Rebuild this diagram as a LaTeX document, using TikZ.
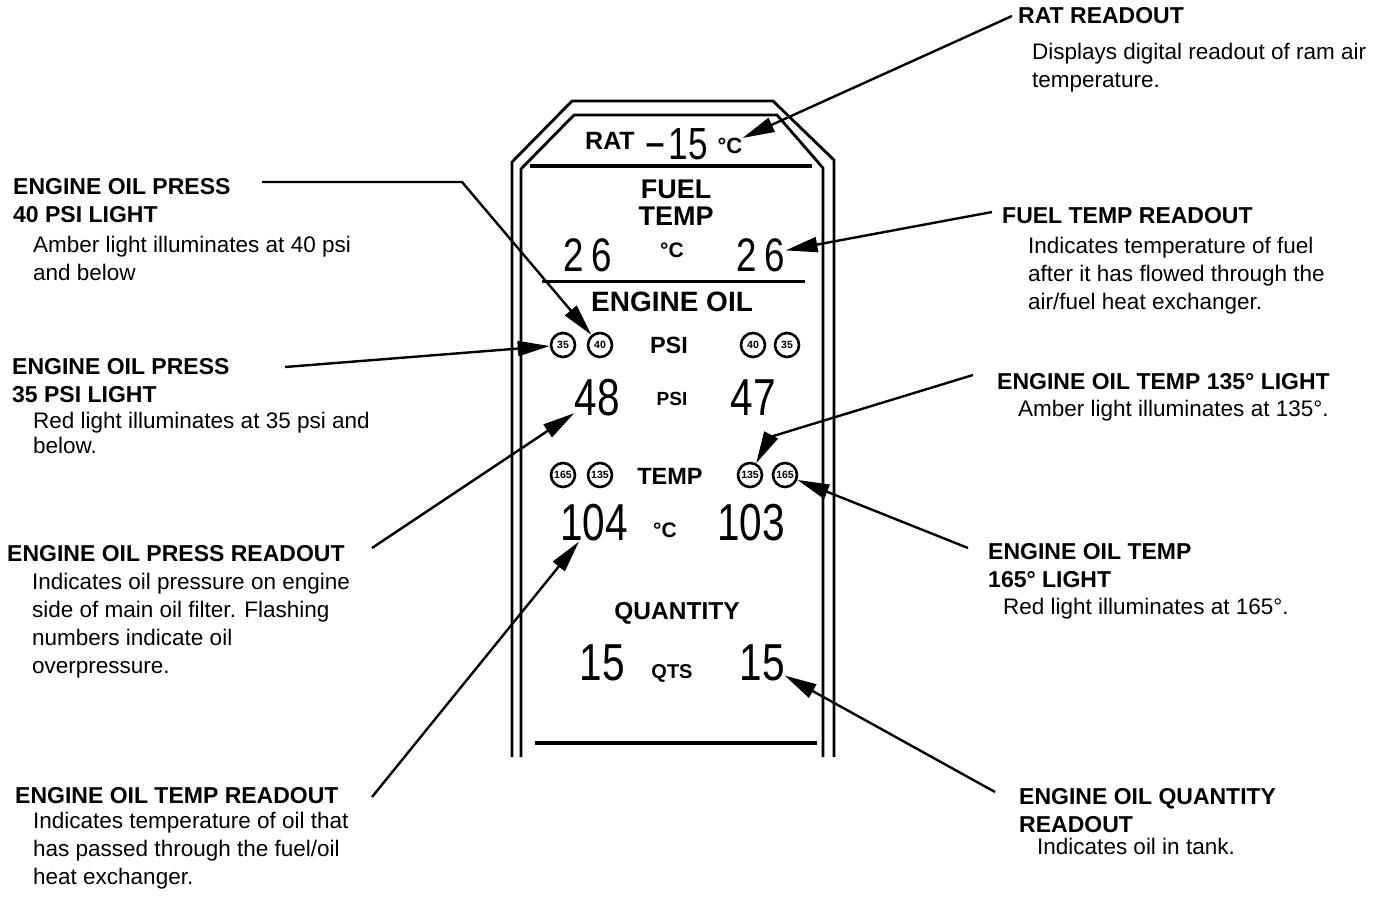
\documentclass[tikz,border=0pt]{standalone}
\usepackage{fontspec}
\setmainfont{Liberation Sans}
\newfontfamily\segfont[FakeStretch=0.78]{Liberation Sans}
\usepackage{tikz}
\usetikzlibrary{positioning,arrows.meta}

\begin{document}
\begin{tikzpicture}[x=1pt,y=-1pt,
  head/.style={anchor=north west,inner sep=0pt,align=left,font=\bfseries\fontsize{23}{28}\selectfont},
  desc/.style={anchor=north west,inner sep=0pt,align=left,font=\fontsize{22.5}{28}\selectfont},
  lbl/.style={inner sep=0pt,font=\bfseries\fontsize{#1}{#1}\selectfont},
  lbl/.default=24,
  seg/.style={inner sep=0pt,font=\segfont\fontsize{#1}{#1}\selectfont},
  seg/.default=52,
  lamp/.style={circle,draw,line width=2.6pt,minimum size=24pt,inner sep=0pt,font=\bfseries\fontsize{10.5}{10.5}\selectfont},
  arr/.style={line width=2.4pt,-{Triangle[length=32pt,width=15pt]}},
  panelline/.style={line width=2.8pt}]
\useasboundingbox (0,0) rectangle (1396,905);
% panel outline
\draw[panelline] (512,757) -- (512,162) -- (572,101) -- (773,101) -- (834,160) -- (834,757);
\draw[panelline] (521,757) -- (521,169) -- (574,115) -- (777,115) -- (823,168) -- (823,757);
% separators
\draw[line width=3.5pt] (530,166) -- (812,166);
\draw[line width=3pt] (542,281) -- (805,281);
\draw[line width=3.5pt] (535,743) -- (817,743);
% ram air temperature
\node[lbl=25] (rat) at (610,141) {RAT};
\node[lbl=34,anchor=base] (ratdash) at (655,154) {--};
\node[seg=45] (ratval) at (688,144) {15};
\node[lbl=22] (ratunit) at (730,146) {°C};
% fuel temperature
\node[lbl=27] (fuel) at (676,189) {FUEL};
\node[lbl=27] (fueltemp) at (676,216) {TEMP};
\node[seg=47] (fuelL) at (588,255) {2\kern8pt6};
\node[lbl=21] (fuelunit) at (672,250) {°C};
\node[seg=47] (fuelR) at (761,255) {2\kern8pt6};
\node[lbl=28] (oil) at (672,302) {ENGINE OIL};
% pressure
\node[lamp] (p35L) at (563,345) {35};
\node[lamp] (p40L) at (600,345) {40};
\node[lbl=23.5] (psi) at (669,345) {PSI};
\node[lamp] (p40R) at (753,345) {40};
\node[lamp] (p35R) at (787,345) {35};
\node[seg] (pressL) at (597,398) {48};
\node[lbl=19] (psiunit) at (672,399) {PSI};
\node[seg] (pressR) at (753,398) {47};
% temperature
\node[lamp] (t165L) at (563,475) {165};
\node[lamp] (t135L) at (600,475) {135};
\node[lbl=23.5] (temp) at (670,476) {TEMP};
\node[lamp] (t135R) at (750,475) {135};
\node[lamp] (t165R) at (785,475) {165};
\node[seg] (tempL) at (594,523) {104};
\node[lbl=21] (tempunit) at (665,530) {°C};
\node[seg] (tempR) at (751,523) {103};
% quantity
\node[lbl=24.5] (qty) at (677,613) {QUANTITY};
\node[seg] (qtyL) at (602,663) {15};
\node[lbl=20] (qtyunit) at (672,673) {QTS};
\node[seg] (qtyR) at (762,663) {15};
% left callouts
\node[head] (h40) at (13,178) {ENGINE OIL PRESS\\40 PSI LIGHT};
\node[desc] (d40) at (33,236) {Amber light illuminates at 40 psi\\and below};
\node[head] (h35) at (12,358) {ENGINE OIL PRESS\\35 PSI LIGHT};
\node[desc,font=\fontsize{22.5}{25}\selectfont] (d35) at (33,412) {Red light illuminates at 35 psi and\\below.};
\node[head] (hpress) at (7,545) {ENGINE OIL PRESS READOUT};
\node[desc] (dpress) at (32,573) {Indicates oil pressure on engine\\side of main oil filter. Flashing\\numbers indicate oil\\overpressure.};
\node[head] (htemp) at (15,787) {ENGINE OIL TEMP READOUT};
\node[desc] (dtemp) at (33,812) {Indicates temperature of oil that\\has passed through the fuel/oil\\heat exchanger.};
% right callouts
\node[head] (hrat) at (1018,7) {RAT READOUT};
\node[desc] (drat) at (1032,43) {Displays digital readout of ram air\\temperature.};
\node[head] (hfuel) at (1002,207) {FUEL TEMP READOUT};
\node[desc] (dfuel) at (1028,237) {Indicates temperature of fuel\\after it has flowed through the\\air/fuel heat exchanger.};
\node[head] (h135) at (997,373) {ENGINE OIL TEMP 135° LIGHT};
\node[desc] (d135) at (1018,400) {Amber light illuminates at 135°.};
\node[head] (h165) at (988,543) {ENGINE OIL TEMP\\165° LIGHT};
\node[desc] (d165) at (1003,598) {Red light illuminates at 165°.};
\node[head] (hqty) at (1019,788) {ENGINE OIL QUANTITY\\READOUT};
\node[desc] (dqty) at (1037,838) {Indicates oil in tank.};
% leaders
\coordinate (c40) at (262,182);
\draw[arr] (c40) -- (462,182) -- (p40L);
\coordinate (c35) at (285,367);
\draw[arr] (c35) -- (p35L);
\coordinate (cpress) at (372,548);
\draw[arr] (cpress) -- (pressL);
\coordinate (ctemp) at (372,797);
\draw[arr] (ctemp) -- (tempL);
\coordinate (crat) at (1012,16);
\draw[arr] (crat) -- (ratunit.north east);
\coordinate (cfuel) at (992,212);
\draw[arr] (cfuel) -- (fuelR);
\coordinate (c135) at (973,375);
\draw[arr] (c135) -- (770,437) -- (t135R);
\coordinate (c165) at (968,548);
\draw[arr] (c165) -- (t165R);
\coordinate (cqty) at (995,792);
\draw[arr] (cqty) -- (qtyR);
\end{tikzpicture}
\end{document}
